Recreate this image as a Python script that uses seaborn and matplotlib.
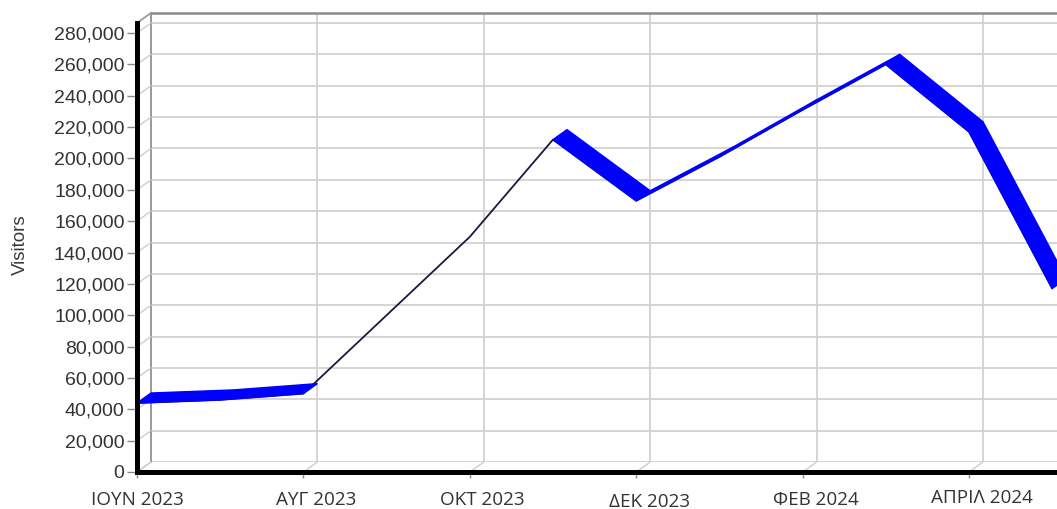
import numpy as np
import pandas as pd
import matplotlib
matplotlib.use("Agg")
import matplotlib.pyplot as plt
import seaborn as sns
from matplotlib.patches import Polygon
from matplotlib.transforms import ScaledTranslation

# ---------------- data ----------------
months = ["ΙΟΥΝ 2023", "ΙΟΥΛ 2023", "ΑΥΓ 2023", "ΣΕΠ 2023", "ΟΚΤ 2023", "ΝΟΕ 2023",
          "ΔΕΚ 2023", "ΙΑΝ 2024", "ΦΕΒ 2024", "ΜΑΡ 2024", "ΑΠΡΙΛ 2024", "ΜΑΪ 2024"]
visitors = [44000, 46000, 50000, 100000, 150000, 212000,
            173000, 201000, 231000, 260000, 217000, 117000]
tick_months = ["ΙΟΥΝ 2023", "ΑΥΓ 2023", "ΟΚΤ 2023", "ΔΕΚ 2023", "ΦΕΒ 2024", "ΑΠΡΙΛ 2024"]
y_ticks = list(range(0, 280001, 20000))
y_label = "Visitors"

df = pd.DataFrame({"idx": np.arange(len(months)), "month": months, "visitors": visitors})
tick_pos = [months.index(m) for m in tick_months]

# ---------------- layout ----------------
sns.set_style("white")
plt.rcParams['font.family'] = ['Liberation Sans', 'DejaVu Sans']

W, H = 1057, 509
fig = plt.figure(figsize=(W / 100, H / 100), dpi=100)
fig.patch.set_facecolor("white")

px_month = 83.2                 # pixels per month
px_unit = 439 / 280000          # pixels per visitor
XMAX, YMAX = 11.3, 286400
front_left, front_bottom = 137, 472
DX, DY = 14, 10                 # depth offset of back wall, pixels
ax_w, ax_h = XMAX * px_month, YMAX * px_unit

back = fig.add_axes([(front_left + DX) / W, (H - front_bottom + DY) / H, ax_w / W, ax_h / H])
front = fig.add_axes([front_left / W, (H - front_bottom) / H, ax_w / W, ax_h / H])

# back wall
back.set_xlim(0, XMAX)
back.set_ylim(0, YMAX)
back.set_xticks(tick_pos)
back.set_yticks(y_ticks)
back.grid(True, color="#d2d2d2", lw=1.3)
back.tick_params(length=0, labelbottom=False, labelleft=False)
back.set_facecolor("white")
for s in ["right", "bottom"]:
    back.spines[s].set_visible(False)
back.spines["left"].set_color("#9a9a9a")
back.spines["left"].set_linewidth(1.4)
back.spines["top"].set_color("#8a8a8a")
back.spines["top"].set_linewidth(1.8)

# front axes
front.patch.set_alpha(0)
front.set_xlim(0, XMAX)
front.set_ylim(0, YMAX)
for s in ["right", "top"]:
    front.spines[s].set_visible(False)
for s in ["left", "bottom"]:
    front.spines[s].set_color("black")
    front.spines[s].set_linewidth(3.6)
    front.spines[s].set_zorder(6)

dxd = DX / px_month
dyd = DY / px_unit

# depth connector lines
for v in y_ticks:
    front.plot([0, dxd], [v, v + dyd], color="#cdcdcd", lw=1.0, clip_on=False, zorder=1)
for p in tick_pos:
    front.plot([p, p + dxd], [0, dyd], color="#cdcdcd", lw=1.0, clip_on=False, zorder=1)
front.plot([0, dxd], [YMAX, YMAX + dyd], color="#9a9a9a", lw=1.3, clip_on=False, zorder=1)

# series: thin front line + ribbon faces
sns.lineplot(data=df, x="idx", y="visitors", ax=front, color="#1a1a40", lw=1.3,
             zorder=2, legend=False)
xs = df["idx"].to_numpy(dtype=float)
ys = df["visitors"].to_numpy(dtype=float)
for i in range(len(xs) - 1):
    sx = (xs[i + 1] - xs[i]) * px_month
    sy = (ys[i + 1] - ys[i]) * px_unit
    if sx * DY - sy * DX <= 0:
        continue
    verts = [(xs[i], ys[i]), (xs[i + 1], ys[i + 1]),
             (xs[i + 1] + dxd, ys[i + 1] + dyd), (xs[i] + dxd, ys[i] + dyd)]
    front.add_patch(Polygon(verts, closed=True, facecolor="#0000ff", edgecolor="#0000ff",
                            lw=1.0, joinstyle="miter", zorder=3, clip_on=False))

# ticks
front.set_yticks(y_ticks)
front.set_yticklabels([f"{v:,}" for v in y_ticks])
front.set_xticks(tick_pos)
front.set_xticklabels(tick_months)
front.tick_params(axis="y", length=7, width=1, color="#8a8a8a", pad=2,
                  labelsize=14, labelcolor="#333333", left=True)
front.tick_params(axis="x", length=4, width=1, color="#8a8a8a", pad=9.5,
                  labelsize=13.6, labelcolor="#333333", bottom=True)
x_shift_px = [0, 13, 13, 13, 13, 13]
y_shift_px = [0, 0, 0, -2, 0, 2]
for lab, sxp, syp in zip(front.get_xticklabels(), x_shift_px, y_shift_px):
    lab.set_family(["Open Sans", "DejaVu Sans"])
    lab.set_transform(lab.get_transform() + ScaledTranslation(sxp / 100, syp / 100, fig.dpi_scale_trans))
front.set_xlabel("")
front.set_ylabel("")

fig.text(20 / W, 1 - 245 / H, y_label, rotation=90, ha="center", va="center",
         fontsize=13.5, color="#3a3a3a")

fig.savefig("out.png", dpi=100, facecolor="white")
